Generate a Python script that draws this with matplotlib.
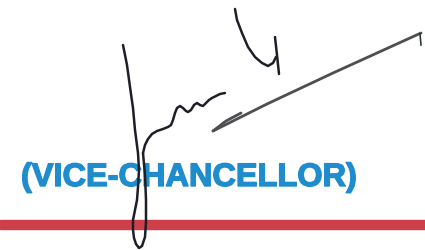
import matplotlib
matplotlib.use("Agg")
import matplotlib.pyplot as plt
import matplotlib.patheffects as pe

# ---- data (pixel coordinates of the reference, y downward) ----
label_text = "(VICE-CHANCELLOR)"

loop_x = [123, 127, 130, 133, 135, 138, 139, 138, 137, 135, 133, 133, 134, 136, 139, 142, 145, 146, 146, 145, 143]
loop_y = [45, 65, 87, 108, 130, 153, 170, 187, 200, 210, 220, 230, 238, 244, 248, 246, 237, 222, 200, 175, 153]

wave_x = [143, 145, 148, 152, 157, 163, 168, 171, 173, 175, 177, 180, 183, 186, 188, 191, 194, 197, 200, 203, 206, 209, 212, 216, 220, 225]
wave_y = [153, 145, 139, 134, 131, 129, 127, 125, 120, 113, 108, 106, 108, 111, 112, 110, 105, 103, 105, 106, 103, 100, 98, 96, 94, 93]

ycurve_x = [235, 237, 242, 248, 255, 262, 268, 273, 276]
ycurve_y = [9, 20, 33, 47, 57, 63, 66, 63, 57]

ystem_x = [275, 277, 279]
ystem_y = [37, 55, 74]

arrow_x = [213, 267, 333, 421]
arrow_y = [131, 104, 73, 33]

arm_x = [213, 226, 241]
arm_y = [131, 121, 113]

tick_x = [420, 421]
tick_y = [34, 45]

rule_top, rule_bottom = 220, 229

# ---- figure ----
fig = plt.figure(figsize=(4.25, 2.5), dpi=100)
ax = fig.add_axes([0, 0, 1, 1])
ax.set_xlim(0, 425)
ax.set_ylim(250, 0)
ax.axis("off")

# red rule
ax.axhspan(rule_top, rule_bottom, color="#cf3f4a", zorder=1)

# label text, fitted to width
blue = "#1f8ccd"
txt = ax.text(21, 186, label_text, fontsize=23.5, fontweight="bold",
              family=["Liberation Sans", "DejaVu Sans"], color=blue,
              ha="left", va="baseline", zorder=2,
              path_effects=[pe.withStroke(linewidth=1.0, foreground=blue)])
fig.canvas.draw()
target_w = 335
w = txt.get_window_extent(fig.canvas.get_renderer()).width
txt.set_fontsize(23.5 * target_w / w)

ink = "#1e1e28"
kw = dict(color=ink, lw=1.8, solid_capstyle="round", solid_joinstyle="round", zorder=3)
ax.plot(loop_x, loop_y, **kw)
ax.plot(wave_x, wave_y, **kw)
ax.plot(ycurve_x, ycurve_y, **kw)
ax.plot(ystem_x, ystem_y, **kw)

akw = dict(color="#4d4d52", lw=2.0, solid_capstyle="round", solid_joinstyle="round", zorder=3)
ax.plot(arrow_x, arrow_y, **akw)
ax.plot(arm_x, arm_y, **akw)
ax.plot(tick_x, tick_y, color="#2a3a3a", lw=1.2, zorder=3)

fig.savefig("out.png", dpi=100)
